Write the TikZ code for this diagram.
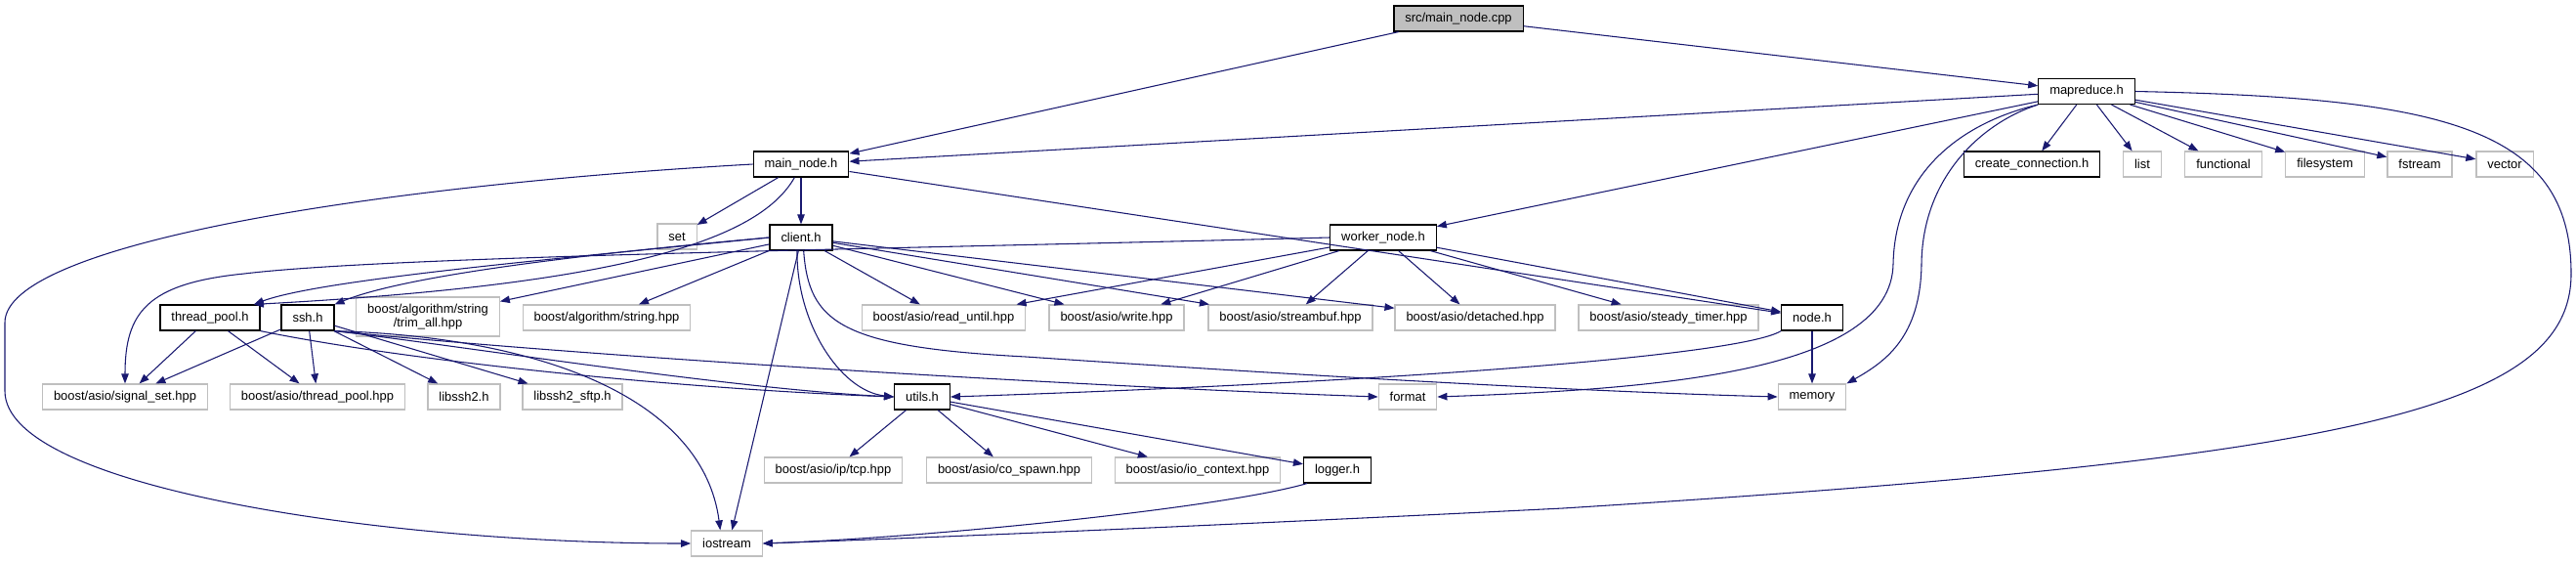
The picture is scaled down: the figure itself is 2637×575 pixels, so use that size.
\documentclass[tikz,border=0pt]{standalone}
\usepackage{fontspec}
\setmainfont{Liberation Sans}
\usetikzlibrary{arrows.meta}
\definecolor{dxblue}{HTML}{191970}
\definecolor{dxgray}{HTML}{BFBFBF}
\tikzset{
  hdr/.style={draw=black, fill=white, line width=0.9pt, inner xsep=8.6pt, inner ysep=0pt,
    minimum height=19.5pt, font=\fontsize{9.7}{11}\selectfont},
  syshdr/.style={hdr, draw=dxgray},
  roothdr/.style={hdr, fill=dxgray},
  dep/.style={draw=dxblue, line width=0.8pt, -{Triangle[length=7.5pt,width=5.6pt]}},
}
\begin{document}
\begin{tikzpicture}[x=0.75pt, y=-0.75pt]
    \useasboundingbox (0,0) rectangle (2637,575);
    % project headers
    \node[roothdr] (cpp) at (1493,19) {src/main\_node.cpp};
    \node[hdr] (mapred) at (2136,93.5) {mapreduce.h};
    \node[hdr] (mainh) at (820,168) {main\_node.h};
    \node[hdr] (conn) at (2080,168) {create\_connection.h};
    \node[hdr] (client) at (820,243) {client.h};
    \node[hdr] (worker) at (1416,243) {worker\_node.h};
    \node[hdr] (tpool) at (215,325) {thread\_pool.h};
    \node[hdr] (ssh) at (315,325) {ssh.h};
    \node[hdr] (nodeh) at (1855,325) {node.h};
    \node[hdr] (utils) at (944,406) {utils.h};
    \node[hdr] (logger) at (1369,481) {logger.h};
    % system headers
    \foreach \nm/\x/\txt in {list/2193/list, functional/2276/functional, filesystem/2380/filesystem,
        fstream/2477/fstream, vector/2564/vector} {
        \node[syshdr] (\nm) at (\x,168) {\txt};
    }
    \node[syshdr] (set) at (693,242) {set};
    \node[syshdr, align=center, minimum height=30pt] (trim) at (438,324) {boost/algorithm/string\\/trim\_all.hpp};
    \foreach \nm/\x/\txt in {algstr/621/{boost/algorithm/string.hpp}, readuntil/966/{boost/asio/read\_until.hpp},
        write/1143/{boost/asio/write.hpp}, streambuf/1321/{boost/asio/streambuf.hpp},
        detached/1510/{boost/asio/detached.hpp}, steady/1708/{boost/asio/steady\_timer.hpp}} {
        \node[syshdr] (\nm) at (\x,325) {\txt};
    }
    \foreach \nm/\x/\txt in {sigset/128/{boost/asio/signal\_set.hpp}, tpoolhpp/325/{boost/asio/thread\_pool.hpp},
        libssh/475/libssh2.h, sftp/586/libssh2\_sftp.h, format/1441/format, memory/1855/memory} {
        \node[syshdr] (\nm) at (\x,406) {\txt};
    }
    \foreach \nm/\x/\txt in {tcp/853/{boost/asio/ip/tcp.hpp}, cospawn/1033/{boost/asio/co\_spawn.hpp},
        ioctx/1226/{boost/asio/io\_context.hpp}} {
        \node[syshdr] (\nm) at (\x,481) {\txt};
    }
    \node[syshdr] (iostream) at (744,556) {iostream};

    % straight includes
    \foreach \a/\b in {cpp/mainh, cpp/mapred, mapred/mainh, mapred/worker, mapred/conn, mapred/list,
        mapred/functional, mapred/filesystem, mapred/fstream, mapred/vector,
        mainh/set, mainh/client, mainh/nodeh,
        client/trim, client/algstr, client/readuntil, client/write, client/streambuf, client/detached,
        worker/readuntil, worker/write, worker/streambuf, worker/detached, worker/steady, worker/nodeh,
        tpool/sigset, tpool/tpoolhpp, ssh/sigset, ssh/tpoolhpp, ssh/libssh, ssh/sftp,
        nodeh/memory, utils/tcp, utils/cospawn, utils/ioctx, utils/logger} {
        \draw[dep] (\a) -- (\b);
    }
    \draw[dep] ([xshift=-2pt]client.south) -- ([xshift=4pt]iostream.north);

    % curved includes
    \draw[dep] (mainh.west) .. controls (380,190) and (5,250) .. (5,330) -- (5,400)
        .. controls (5,500) and (400,556) .. (iostream.west);
    \draw[dep] ([xshift=-5pt]mainh.south) .. controls (780,240) and (660,290) .. ([xshift=-5pt]tpool.north east);
    \draw[dep] (mapred.east) .. controls (2500,100) and (2632,130) .. (2632,280)
        .. controls (2632,420) and (2400,470) .. (1600,520)
        .. controls (1200,540) and (900,552) .. (iostream.east);
    \draw[dep] (mapred.south west) .. controls (2030,125) and (1968,180) .. (1967,270)
        .. controls (1966,345) and (1930,370) .. (memory.north east);
    \draw[dep] (mapred.south west) .. controls (2010,125) and (1940,175) .. (1938,270)
        .. controls (1936,380) and (1700,398) .. (format.east);
    \draw[dep] (client.west) .. controls (600,262) and (330,285) .. ([xshift=-5pt]tpool.north east);
    \draw[dep] (client.west) .. controls (620,258) and (420,280) .. (ssh.north east);
    \draw[dep] ([xshift=-3pt]client.south) .. controls (815,330) and (860,400) .. (utils.west);
    \draw[dep] ([xshift=2pt]client.south) .. controls (828,330) and (860,355) .. (1050,365)
        .. controls (1300,382) and (1600,400) .. (memory.west);
    \draw[dep] (worker.west) .. controls (900,255) and (400,262) .. (250,280)
        .. controls (150,290) and (128,320) .. (sigset.north);
    \draw[dep] (tpool.south east) .. controls (420,370) and (700,398) .. (utils.west);
    \draw[dep] (ssh.south east) .. controls (480,355) and (750,398) .. (utils.west);
    \draw[dep] (ssh.south east) .. controls (600,365) and (1100,395) .. (format.west);
    \draw[dep] (ssh.south east) .. controls (560,345) and (720,410) .. ([xshift=-5pt]iostream.north);
    \draw[dep] (nodeh.south west) .. controls (1780,365) and (1400,392) .. (utils.east);
    \draw[dep] ([xshift=3pt]logger.south west) .. controls (1250,520) and (950,550) .. (iostream.east);
\end{tikzpicture}
\end{document}
